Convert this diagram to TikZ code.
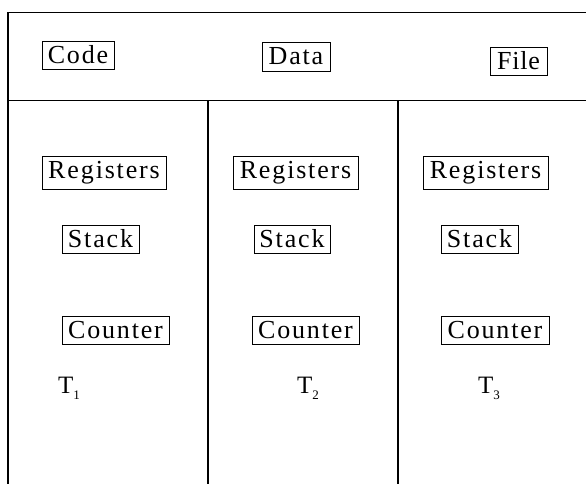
\documentclass[tikz,border=0pt]{standalone}
\usepackage{fontspec}
\setmainfont{Liberation Serif}
\newfontfamily\spacedfont{Liberation Serif}[LetterSpace=7]
\begin{document}
\begin{tikzpicture}[x=1pt,y=1pt,
  frame/.style={line width=1.5pt},
  lbl/.style={draw, line width=0.8pt, inner sep=0pt, minimum height=28pt,
    font=\spacedfont\fontsize{26}{26}\selectfont},
  tlbl/.style={inner sep=0pt, font=\fontsize{25}{25}\selectfont}]
\useasboundingbox (0,0) rectangle (586,484);
% frame
\coordinate (tl) at (8,471.5);
\coordinate (tr) at (586,471.5);
\coordinate (bl) at (8,0);
\coordinate (ml) at (8,383.5);
\coordinate (mr) at (586,383.5);
\coordinate (d1t) at (208,383.5);
\coordinate (d1b) at (208,0);
\coordinate (d2t) at (398,383.5);
\coordinate (d2b) at (398,0);
\draw[frame] (tr) -- (tl) -- (bl);
\draw[frame] (ml) -- (mr);
\draw[frame] (d1t) -- (d1b);
\draw[frame] (d2t) -- (d2b);
% shared part
\node[lbl, minimum width=72pt] (code) at (78,429) {Code};
\node[lbl, minimum width=68pt, minimum height=29pt] (data) at (296,427.5) {Data};
\node[lbl, minimum width=57pt] (file) at (518.5,423) {\addfontfeatures{LetterSpace=3}File};
% thread 1
\node[lbl, minimum width=124pt, minimum height=33pt] (reg1) at (104,311.5) {Re\kern2pt gisters};
\node[lbl, minimum width=77pt] (stack1) at (100.5,245) {Stack};
\node[lbl, minimum width=107pt] (cnt1) at (115.5,154) {Counter};
% thread 2
\node[lbl, minimum width=125pt, minimum height=33pt] (reg2) at (295.5,311.5) {Re\kern2pt gisters};
\node[lbl, minimum width=76pt] (stack2) at (292,245) {Stack};
\node[lbl, minimum width=107pt] (cnt2) at (305.5,154) {Counter};
% thread 3
\node[lbl, minimum width=125pt, minimum height=33pt] (reg3) at (485.5,311.5) {Re\kern2pt gisters};
\node[lbl, minimum width=77pt] (stack3) at (479.5,245) {Stack};
\node[lbl, minimum width=108pt] (cnt3) at (495,154) {Counter};
% thread labels
\node[tlbl, anchor=base west] (t1) at (58,90) {T\raisebox{-6pt}{\fontsize{13}{13}\selectfont 1}};
\node[tlbl, anchor=base west] (t2) at (297,90) {T\raisebox{-6pt}{\fontsize{13}{13}\selectfont 2}};
\node[tlbl, anchor=base west] (t3) at (478,90) {T\raisebox{-6pt}{\fontsize{13}{13}\selectfont 3}};
\end{tikzpicture}
\end{document}
